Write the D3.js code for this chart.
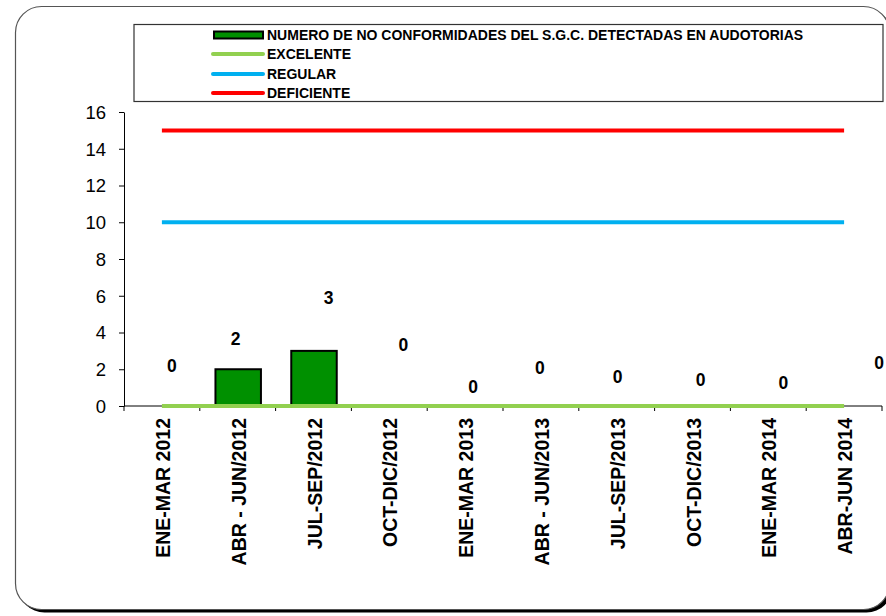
<!DOCTYPE html>
<html><head><meta charset="utf-8">
<script src="https://cdn.jsdelivr.net/npm/d3@7"></script>
<style>html,body{margin:0;padding:0;background:#fff;}svg{display:block;font-family:"Liberation Sans",Arial,sans-serif;}</style>
</head><body><svg id="c" width="886" height="616"></svg>
<script>
const categories = ["ENE-MAR 2012","ABR - JUN/2012","JUL-SEP/2012","OCT-DIC/2012","ENE-MAR 2013","ABR - JUN/2013","JUL-SEP/2013","OCT-DIC/2013","ENE-MAR 2014","ABR-JUN 2014"];
const noConformidades = [0,2,3,0,0,0,0,0,0,0];
const excelente = [0,0,0,0,0,0,0,0,0,0];
const regular = [10,10,10,10,10,10,10,10,10,10];
const deficiente = [15,15,15,15,15,15,15,15,15,15];
const yTicks = [0,2,4,6,8,10,12,14,16];
const seriesNames = ["NUMERO DE NO CONFORMIDADES DEL S.G.C. DETECTADAS EN AUDOTORIAS","EXCELENTE","REGULAR","DEFICIENTE"];

// manual data label offsets (px) as positioned in the original
const labelOffsets = [[10,-40],[-2,-30],[15,-53],[14,-61],[8,-19],[-1,-38],[1,-29],[8,-26],[15,-23],[35,-43]];

const svg = d3.select("#c");
// frame with shadow
svg.append("rect").attr("x",18.5).attr("y",9.5).attr("width",874).attr("height",603).attr("rx",26).attr("fill","#000");
svg.append("rect").attr("x",15.5).attr("y",6.5).attr("width",874).attr("height",603).attr("rx",26).attr("fill","#fff").attr("stroke","#555").attr("stroke-width",1.2);

const x = d3.scaleBand().domain(categories).range([124,882]).paddingInner(0.4).paddingOuter(0.2);
const xc = d3.scaleBand().domain(categories).range([124,882]);
const y = d3.scaleLinear().domain([0,16]).range([406,112]);

// axes
const yAxis = d3.axisLeft(y).tickValues(yTicks).tickSize(5).tickPadding(13).tickSizeOuter(0);
const gy = svg.append("g").attr("transform","translate(124,0)").call(yAxis);
gy.selectAll("text").attr("font-size",18.5).attr("fill","#000").attr("dy","0.35em");
gy.selectAll("line,path").attr("stroke","#000");

const gx = svg.append("g").attr("transform","translate(0,406)");
gx.append("line").attr("x1",124).attr("x2",882).attr("stroke","#000");
const tickPos = categories.map(c=>xc(c)).concat([882]);
gx.selectAll("line.t").data(tickPos).join("line").attr("class","t")
  .attr("x1",d=>d).attr("x2",d=>d).attr("y1",0).attr("y2",5).attr("stroke","#000");
gx.selectAll("text").data(categories).join("text")
  .attr("transform",d=>`translate(${xc(d)+xc.bandwidth()/2+1},12) rotate(-90)`)
  .attr("text-anchor","end").attr("dominant-baseline","central")
  .attr("font-size",19.5).attr("font-weight","bold").attr("fill","#000").text(d=>d);

// bars
svg.selectAll("rect.bar").data(noConformidades).join("rect").attr("class","bar")
  .attr("x",(d,i)=>x(categories[i])+0.5).attr("width",x.bandwidth())
  .attr("y",d=>y(d)).attr("height",d=>y(0)-y(d))
  .attr("fill","#009000").attr("stroke","#000").attr("stroke-width",2);

// lines
const line = d3.line().x((d,i)=>xc(categories[i])+xc.bandwidth()/2).y(d=>y(d));
[[deficiente,"#ff0000"],[regular,"#00b0f0"],[excelente,"#92d050"]].forEach(([s,c])=>{
  svg.append("path").attr("d",line(s)).attr("fill","none").attr("stroke",c).attr("stroke-width",4);
});

// data labels
svg.selectAll("text.lbl").data(noConformidades).join("text").attr("class","lbl")
  .attr("x",(d,i)=>xc(categories[i])+xc.bandwidth()/2+labelOffsets[i][0])
  .attr("y",(d,i)=>y(d)+labelOffsets[i][1])
  .attr("text-anchor","middle").attr("dominant-baseline","central")
  .attr("font-size",17.5).attr("font-weight","bold").attr("fill","#000").text(d=>d);

// legend
svg.append("rect").attr("x",134).attr("y",24.5).attr("width",749).attr("height",77).attr("fill","#fff").attr("stroke","#333").attr("stroke-width",1.2);
const ly = [35,54,74,93];
const lg = svg.append("g");
lg.append("rect").attr("x",214).attr("y",ly[0]-3.5).attr("width",49).attr("height",7).attr("fill","#009000").attr("stroke","#000").attr("stroke-width",2);
[["#92d050",1],["#00b0f0",2],["#ff0000",3]].forEach(([c,i])=>{
  lg.append("line").attr("x1",213).attr("x2",263).attr("y1",ly[i]).attr("y2",ly[i]).attr("stroke",c).attr("stroke-width",4).attr("stroke-linecap","round");
});
lg.selectAll("text").data(seriesNames).join("text")
  .attr("x",267).attr("y",(d,i)=>ly[i]).attr("dominant-baseline","central")
  .attr("font-size",14).attr("font-weight","bold").attr("fill","#000").text(d=>d);
</script></body></html>
